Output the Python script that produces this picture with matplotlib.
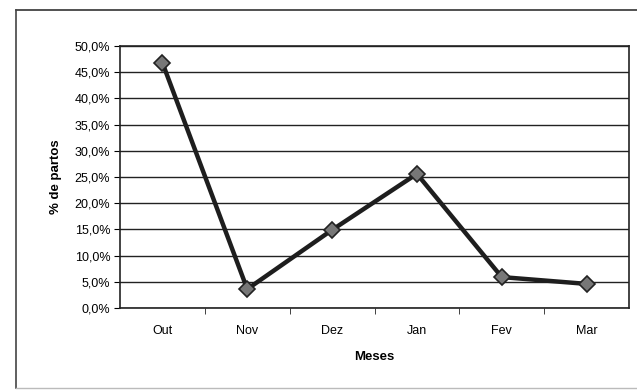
import matplotlib.pyplot as plt
from matplotlib.lines import Line2D
from matplotlib.ticker import FuncFormatter

plt.rcParams['font.family'] = ['Liberation Sans', 'DejaVu Sans']

meses = ['Out', 'Nov', 'Dez', 'Jan', 'Fev', 'Mar']
partos = [46.8, 3.6, 14.9, 25.6, 5.9, 4.6]
y_ticks = [0, 5, 10, 15, 20, 25, 30, 35, 40, 45, 50]

W, H = 637, 391
fig = plt.figure(figsize=(W / 100, H / 100), dpi=100)

# moldura externa: topo e esquerda escuros, base clara
left, top, bottom = 16 / W, 1 - 10 / H, 1 - 388 / H
fig.lines.append(Line2D([left, 1.0], [top, top], transform=fig.transFigure,
                        color='#333333', linewidth=1.2))
fig.lines.append(Line2D([left, left], [bottom, top], transform=fig.transFigure,
                        color='#444444', linewidth=1.2))
fig.lines.append(Line2D([left, 1.0], [bottom, bottom], transform=fig.transFigure,
                        color='#bbbbbb', linewidth=1.0))

ax = fig.add_axes([120 / W, 83 / H, 509 / W, 262 / H])
x = range(len(meses))
ax.plot(x, partos, color='#1e1e1e', linewidth=3.2, marker='D',
        markersize=8.5, markerfacecolor='#777777', markeredgecolor='#222222',
        markeredgewidth=1.2, zorder=3)

ax.set_xlim(-0.5, len(meses) - 0.5)
ax.set_ylim(0, 50)
ax.set_yticks(y_ticks)
ax.yaxis.set_major_formatter(FuncFormatter(lambda v, p: f'{v:.1f}%'.replace('.', ',')))
ax.set_xticks(list(x))
ax.set_xticklabels(meses)
ax.set_xticks([i + 0.5 for i in range(len(meses) - 1)], minor=True)
ax.tick_params(axis='x', which='major', length=0, pad=12, labelsize=9)
ax.tick_params(axis='x', which='minor', length=4, direction='out', color='#222222')
ax.tick_params(axis='y', length=4, direction='out', labelsize=9, pad=3)
ax.grid(axis='y', color='#222222', linewidth=1.0)
ax.set_axisbelow(True)
for s in ax.spines.values():
    s.set_color('#222222')
    s.set_linewidth(1.2)

ax.set_xlabel('Meses', fontsize=9.5, fontweight='bold', labelpad=10)
ax.set_ylabel('% de partos', fontsize=9.5, fontweight='bold', labelpad=9)

fig.savefig('out.png', dpi=100)
